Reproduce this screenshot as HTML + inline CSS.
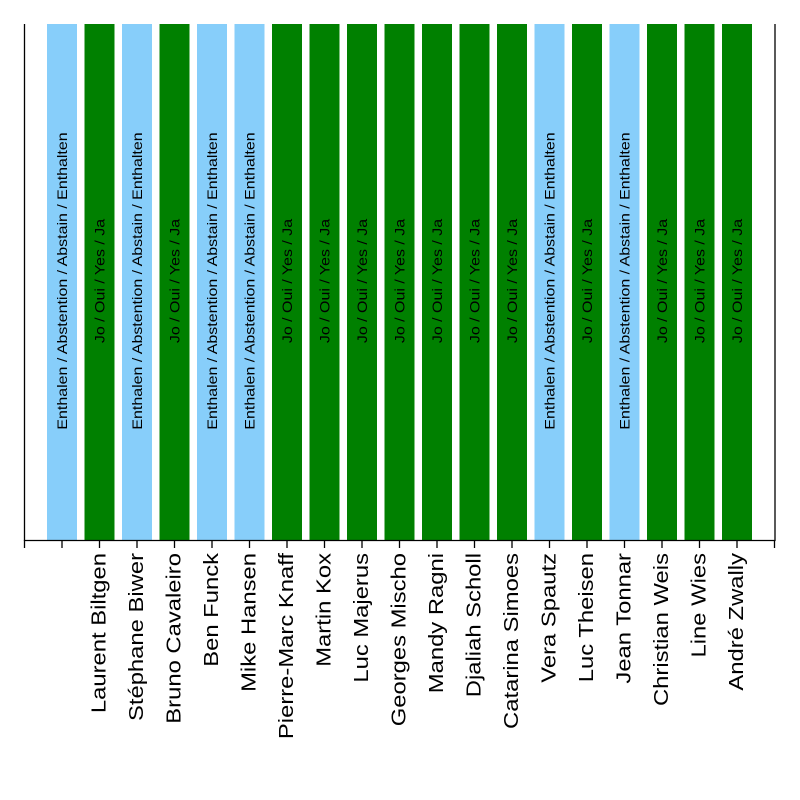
<!DOCTYPE html>
<html><head><meta charset="utf-8"><style>body{margin:0;background:#fff}svg{display:block}</style></head>
<body>
<svg id="s" width="800" height="800" xmlns="http://www.w3.org/2000/svg" font-family="Liberation Sans, Arial, sans-serif">
<rect width="800" height="800" fill="#fff"/>
<g id="bars"></g>
<line x1="24.5" y1="24" x2="24.5" y2="541" stroke="#000" stroke-width="1.3"/>
<line x1="775" y1="24" x2="775" y2="541" stroke="#000" stroke-width="1.3"/>
<line x1="24" y1="540.5" x2="775.5" y2="540.5" stroke="#000" stroke-width="1.3"/>
<g id="ticks" stroke="#000" stroke-width="1.3"></g>
<g id="labels"></g>
<script>
var cols="LGLGLLGGGGGGGLGLGGG";
var names=["Laurent Biltgen","Stéphane Biwer","Bruno Cavaleiro","Ben Funck","Mike Hansen","Pierre-Marc Knaff","Martin Kox","Luc Majerus","Georges Mischo","Mandy Ragni","Djaliah Scholl","Catarina Simoes","Vera Spautz","Luc Theisen","Jean Tonnar","Christian Weis","Line Wies","André Zwally"];
var ns="http://www.w3.org/2000/svg",b=document.getElementById("bars"),t=document.getElementById("ticks"),l=document.getElementById("labels");
function el(n,a,p,txt){var e=document.createElementNS(ns,n);for(var k in a)e.setAttribute(k,a[k]);if(txt)e.textContent=txt;p.appendChild(e);return e;}
function stretch(e,f){try{var w=e.getComputedTextLength();e.setAttribute("textLength",w*f);e.setAttribute("lengthAdjust","spacingAndGlyphs");}catch(x){}}
for(var i=0;i<19;i++){var x=47+37.5*i,c=x+15,L=cols[i]=="L";
el("rect",{x:x,y:24,width:30,height:516,fill:L?"#87cefa":"#008000"},b);
var e=el("text",{x:c,y:281,transform:"rotate(-90 "+c+" 281)","text-anchor":"middle","dominant-baseline":"central","font-size":"14",fill:"#000"},b,L?"Enthalen / Abstention / Abstain / Enthalten":"Jo / Oui / Yes / Ja");
stretch(e,1.14);}
for(var i=0;i<21;i++){var x=24.5+37.5*i;if(x>776)break;el("line",{x1:x,y1:540,x2:x,y2:548},t);}
for(var i=0;i<18;i++){var c=99.5+37.5*i;var e=el("text",{x:c,y:553,transform:"rotate(-90 "+c+" 553)","text-anchor":"end","dominant-baseline":"central","font-size":"20",fill:"#000"},l,names[i]);stretch(e,1.19);}
</script>
</svg>
</body></html>
